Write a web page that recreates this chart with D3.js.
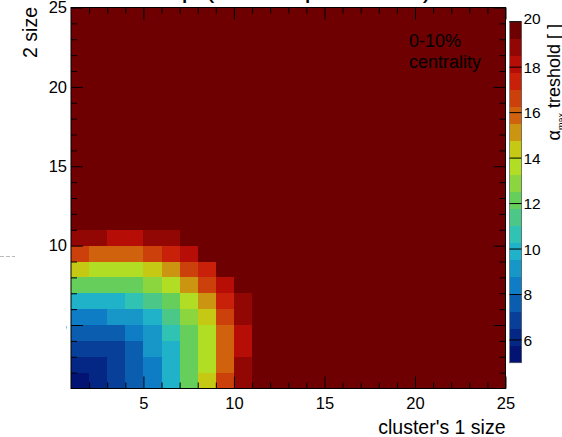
<!DOCTYPE html>
<html>
<head>
<meta charset="utf-8">
<script src="https://cdn.jsdelivr.net/npm/d3@7"></script>
<style>
  body { margin: 0; background: #fff; }
  svg { display: block; }
  text { font-family: "Liberation Sans", Arial, Helvetica, sans-serif; fill: #000; }
</style>
</head>
<body>
<svg id="chart" width="562" height="437"></svg>
<script>
// ---- data -------------------------------------------------------------
// lower edges of the size bins (bin i covers [i, i+1))
const clusterSizes1 = [1,2,3,4,5,6,7,8,9,10,11,12,13,14,15,16,17,18,19,20,21,22,23,24];
const clusterSizes2 = [1,2,3,4,5,6,7,8,9,10,11,12,13,14,15,16,17,18,19,20,21,22,23,24];

// alpha_max threshold per (size1, size2) bin; rows follow clusterSizes2 (bottom to top),
// columns follow clusterSizes1. 20 marks the saturated top of the scale.
const thresholds = [
  [5.4,6.1,6.9,7.6,8.4,9.9,12.1,14.4,16.6,18.9,20,20,20,20,20,20,20,20,20,20,20,20,20,20],
  [6.1,6.1,6.9,7.6,8.4,9.9,12.1,13.6,15.9,18.9,20,20,20,20,20,20,20,20,20,20,20,20,20,20],
  [6.9,6.9,6.9,7.6,9.1,9.9,12.1,13.6,15.9,18.1,20,20,20,20,20,20,20,20,20,20,20,20,20,20],
  [7.6,7.6,7.6,8.4,9.1,10.6,12.1,13.6,15.9,18.1,20,20,20,20,20,20,20,20,20,20,20,20,20,20],
  [8.4,8.4,9.1,9.1,9.9,11.4,12.9,14.4,16.6,18.9,20,20,20,20,20,20,20,20,20,20,20,20,20,20],
  [9.9,9.9,9.9,10.6,11.4,12.1,13.6,15.1,17.4,18.9,20,20,20,20,20,20,20,20,20,20,20,20,20,20],
  [12.1,12.1,12.1,12.1,12.9,13.6,15.1,16.6,18.1,20,20,20,20,20,20,20,20,20,20,20,20,20,20,20],
  [14.4,13.6,13.6,13.6,14.4,15.1,16.6,17.4,20,20,20,20,20,20,20,20,20,20,20,20,20,20,20,20],
  [16.6,15.9,15.9,15.9,16.6,17.4,18.1,20,20,20,20,20,20,20,20,20,20,20,20,20,20,20,20,20],
  [18.9,18.9,18.1,18.1,18.9,18.9,20,20,20,20,20,20,20,20,20,20,20,20,20,20,20,20,20,20],
  [20,20,20,20,20,20,20,20,20,20,20,20,20,20,20,20,20,20,20,20,20,20,20,20],
  [20,20,20,20,20,20,20,20,20,20,20,20,20,20,20,20,20,20,20,20,20,20,20,20],
  [20,20,20,20,20,20,20,20,20,20,20,20,20,20,20,20,20,20,20,20,20,20,20,20],
  [20,20,20,20,20,20,20,20,20,20,20,20,20,20,20,20,20,20,20,20,20,20,20,20],
  [20,20,20,20,20,20,20,20,20,20,20,20,20,20,20,20,20,20,20,20,20,20,20,20],
  [20,20,20,20,20,20,20,20,20,20,20,20,20,20,20,20,20,20,20,20,20,20,20,20],
  [20,20,20,20,20,20,20,20,20,20,20,20,20,20,20,20,20,20,20,20,20,20,20,20],
  [20,20,20,20,20,20,20,20,20,20,20,20,20,20,20,20,20,20,20,20,20,20,20,20],
  [20,20,20,20,20,20,20,20,20,20,20,20,20,20,20,20,20,20,20,20,20,20,20,20],
  [20,20,20,20,20,20,20,20,20,20,20,20,20,20,20,20,20,20,20,20,20,20,20,20],
  [20,20,20,20,20,20,20,20,20,20,20,20,20,20,20,20,20,20,20,20,20,20,20,20],
  [20,20,20,20,20,20,20,20,20,20,20,20,20,20,20,20,20,20,20,20,20,20,20,20],
  [20,20,20,20,20,20,20,20,20,20,20,20,20,20,20,20,20,20,20,20,20,20,20,20],
  [20,20,20,20,20,20,20,20,20,20,20,20,20,20,20,20,20,20,20,20,20,20,20,20]
];

const xTicks = [5,10,15,20,25];
const yTicks = [5,10,15,20,25];
const xMinor = [2,3,4,6,7,8,9,11,12,13,14,16,17,18,19,21,22,23,24];
const yMinor = [2,3,4,6,7,8,9,11,12,13,14,16,17,18,19,21,22,23,24];
const zTicks = [6,8,10,12,14,16,18,20];
const zRange = [5, 20];
const nContours = 20;

const titleText = "Treshold map (cluster pair sizes)";
const xTitle = "cluster's 1 size";
const yTitle = "2 size";
const legendLines = ["0-10%", "centrality"];

// rainbow palette stops
const paletteStops = [0, 0.125, 0.25, 0.375, 0.5, 0.625, 0.75, 0.875, 1];
const paletteColors = ["rgb(0,0,99)","rgb(5,48,142)","rgb(15,124,198)","rgb(35,192,201)",
  "rgb(102,206,90)","rgb(196,226,22)","rgb(208,97,13)","rgb(199,16,8)","rgb(110,0,2)"];

// ---- scales -----------------------------------------------------------
const svg = d3.select("#chart");
const frame = { left: 71, right: 505.5, top: 7.5, bottom: 388.5 };
const x = d3.scaleLinear().domain([1, 25]).range([frame.left, frame.right]);
const y = d3.scaleLinear().domain([1, 25]).range([frame.bottom, frame.top]);
const z = d3.scaleLinear().domain(zRange).range([362.7, 21.7]);

const palette = d3.scaleLinear().domain(paletteStops).range(paletteColors).interpolate(d3.interpolateRgb);
const bandColors = d3.range(nContours).map(i => palette((i + 0.99) / nContours));
const color = d3.scaleQuantize().domain(zRange).range(bandColors);

// ---- title (sits above the canvas edge) -------------------------------
svg.append("text").attr("x", 27).attr("y", -3.5).attr("font-size", 28).text(titleText);

// ---- heat map cells ---------------------------------------------------
const cells = [];
clusterSizes2.forEach((s2, r) => clusterSizes1.forEach((s1, c) => cells.push({ s1, s2, v: thresholds[r][c] })));
svg.append("g").selectAll("rect").data(cells).join("rect")
  .attr("x", d => x(d.s1))
  .attr("y", d => y(d.s2 + 1))
  .attr("width", d => x(d.s1 + 1) - x(d.s1))
  .attr("height", d => y(d.s2) - y(d.s2 + 1))
  .attr("fill", d => color(d.v))
  .attr("shape-rendering", "crispEdges");

// ---- axes (ticks point into the frame) -------------------------------
function styleAxis(g, fontSize) {
  g.select(".domain").remove();
  g.selectAll(".tick line").attr("stroke", "#000").attr("stroke-width", 1);
  g.selectAll(".tick text").attr("font-size", fontSize).attr("fill", "#000").attr("font-family", null);
}
const tickFont = 16.5;
svg.append("g").attr("transform", `translate(0,${frame.bottom})`)
  .call(d3.axisBottom(x).tickValues(xMinor).tickSize(-6).tickFormat(""))
  .call(g => styleAxis(g, tickFont));
svg.append("g").attr("transform", `translate(0,${frame.bottom})`)
  .call(d3.axisBottom(x).tickValues(xTicks).tickSize(-12).tickPadding(9).tickFormat(d3.format("d")))
  .call(g => styleAxis(g, tickFont));
svg.append("g").attr("transform", `translate(0,${frame.top})`)
  .call(d3.axisTop(x).tickValues(xMinor).tickSize(-6).tickFormat(""))
  .call(g => styleAxis(g, tickFont));
svg.append("g").attr("transform", `translate(0,${frame.top})`)
  .call(d3.axisTop(x).tickValues(xTicks).tickSize(-12).tickFormat(""))
  .call(g => styleAxis(g, tickFont));
svg.append("g").attr("transform", `translate(${frame.left},0)`)
  .call(d3.axisLeft(y).tickValues(yMinor).tickSize(-6).tickFormat(""))
  .call(g => styleAxis(g, tickFont));
svg.append("g").attr("transform", `translate(${frame.left},0)`)
  .call(d3.axisLeft(y).tickValues(yTicks).tickSize(-12).tickPadding(4).tickFormat(d3.format("d")))
  .call(g => styleAxis(g, tickFont));
svg.append("g").attr("transform", `translate(${frame.right},0)`)
  .call(d3.axisRight(y).tickValues(yMinor).tickSize(-6).tickFormat(""))
  .call(g => styleAxis(g, tickFont));
svg.append("g").attr("transform", `translate(${frame.right},0)`)
  .call(d3.axisRight(y).tickValues(yTicks).tickSize(-12).tickFormat(""))
  .call(g => styleAxis(g, tickFont));

svg.append("rect")
  .attr("x", frame.left).attr("y", frame.top)
  .attr("width", frame.right - frame.left).attr("height", frame.bottom - frame.top)
  .attr("fill", "none").attr("stroke", "#000").attr("stroke-width", 1);

// white overlay on the left margin (hides the lower y label) and a faint guide dash
svg.append("rect").attr("x", 0).attr("y", 312).attr("width", 66).attr("height", 26).attr("fill", "#fff");
svg.append("line").attr("x1", 0).attr("x2", 15).attr("y1", 256.5).attr("y2", 256.5)
  .attr("stroke", "#bbb").attr("stroke-width", 1).attr("stroke-dasharray", "4,2");

// ---- axis titles ------------------------------------------------------
svg.append("text").attr("x", frame.right).attr("y", 434).attr("text-anchor", "end")
  .attr("font-size", 19.5).text(xTitle);
svg.append("text").attr("transform", "translate(37,7) rotate(-90)").attr("text-anchor", "end")
  .attr("font-size", 19.5).text(yTitle);

// ---- legend text ------------------------------------------------------
svg.append("g").selectAll("text").data(legendLines).join("text")
  .attr("x", 409).attr("y", (d, i) => 47 + i * 20.5)
  .attr("font-size", 18).text(d => d);

// ---- colour bar -------------------------------------------------------
const bar = { x: 509.5, w: 12 };
const levels = [zRange[0], ...color.thresholds(), zRange[1]];
const cb = svg.append("g");
cb.selectAll("rect").data(bandColors).join("rect")
  .attr("x", bar.x).attr("width", bar.w)
  .attr("y", (d, i) => z(levels[i + 1]))
  .attr("height", (d, i) => z(levels[i]) - z(levels[i + 1]))
  .attr("fill", d => d)
  .attr("shape-rendering", "crispEdges");
cb.append("rect").attr("x", bar.x).attr("y", z(zRange[1])).attr("width", bar.w)
  .attr("height", z(zRange[0]) - z(zRange[1])).attr("fill", "none").attr("stroke", "#666").attr("stroke-width", 0.8);
cb.selectAll("line.zt").data(zTicks).join("line").attr("class", "zt")
  .attr("x1", bar.x).attr("x2", bar.x + bar.w)
  .attr("y1", d => z(d)).attr("y2", d => z(d))
  .attr("stroke", "#000").attr("stroke-width", 1);
cb.selectAll("text.zl").data(zTicks).join("text").attr("class", "zl")
  .attr("x", 523.5).attr("y", d => z(d) - (d === 20 ? 3 : 0)).attr("dy", "0.36em")
  .attr("font-size", 15.5).text(d => d);

const zt = svg.append("text").attr("transform", "translate(560,24) rotate(-90)")
  .attr("text-anchor", "end").attr("font-size", 18);
zt.append("tspan").text("α");
zt.append("tspan").attr("font-size", 9).attr("dy", 4).text("max");
zt.append("tspan").attr("dy", -4).text(" treshold [ ]");
</script>
</body>
</html>
